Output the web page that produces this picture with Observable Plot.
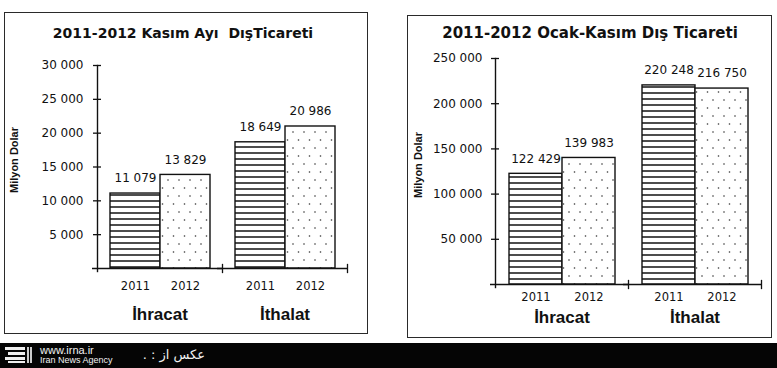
<!DOCTYPE html>
<html>
<head>
<meta charset="utf-8">
<script src="https://cdn.jsdelivr.net/npm/d3@7"></script>
<script src="https://cdn.jsdelivr.net/npm/@observablehq/plot@0.6"></script>
<style>
  html, body { margin: 0; padding: 0; background: #fff; }
  body { width: 777px; height: 368px; overflow: hidden; position: relative; font-family: "Liberation Sans", Arial, sans-serif; color: #111; }
  .panel { position: absolute; border: 1.5px solid #2a2a2a; box-sizing: border-box; }
  .title { position: absolute; font-family: "DejaVu Sans", sans-serif; font-weight: bold; color: #111; white-space: pre; transform: translate(-50%, -50%); }
  .ylab { position: absolute; font-family: "Liberation Sans", Arial, sans-serif; font-weight: bold; font-size: 11px; white-space: nowrap; transform: translate(-50%, -50%) rotate(-90deg); }
  .chart { position: absolute; top: 0; }
  .band { position: absolute; left: 0; top: 343px; width: 777px; height: 25px; background: #050505; }
  .irna1 { position: absolute; left: 40px; top: 345px; font-size: 11px; line-height: 10px; color: #f2f2f2; font-family: "Liberation Sans", Arial, sans-serif; }
  .irna2 { position: absolute; left: 40px; top: 356px; font-size: 9px; line-height: 9px; color: #f2f2f2; font-family: "Liberation Sans", Arial, sans-serif; }
  .photo { position: absolute; right: 572px; top: 348px; font-size: 13px; line-height: 14px; color: #f2f2f2; font-family: "DejaVu Sans", sans-serif; }
</style>
</head>
<body>
<svg width="0" height="0" style="position:absolute">
  <defs>
    <pattern id="hatch" patternUnits="userSpaceOnUse" width="8" height="6">
      <rect width="8" height="6" fill="#fff"></rect>
      <line x1="0" x2="8" y1="3" y2="3" stroke="#111" stroke-width="1.5"></line>
    </pattern>
    <pattern id="dots" patternUnits="userSpaceOnUse" width="11" height="16">
      <rect width="11" height="16" fill="#fff"></rect>
      <circle cx="3" cy="4" r="0.8" fill="#333"></circle>
      <circle cx="8.5" cy="12" r="0.8" fill="#333"></circle>
    </pattern>
  </defs>
</svg>

<div class="panel" style="left:4px;top:12px;width:364px;height:322px;"></div>
<div class="panel" style="left:407px;top:15px;width:365px;height:323px;"></div>

<div id="left" class="chart" style="left:0px;"></div>
<div id="right" class="chart" style="left:390px;"></div>

<div id="t1" class="title" style="left:183px;top:33px;font-size:14px;"></div>
<div id="t2" class="title" style="left:590px;top:33px;font-size:15px;"></div>
<div id="y1" class="ylab" style="left:14px;top:160px;"></div>
<div id="y2" class="ylab" style="left:418px;top:165px;"></div>

<div class="band"></div>
<svg style="position:absolute;left:5px;top:346px" width="28" height="19">
  <rect x="0" y="1" width="20" height="3" fill="#eee"></rect>
  <rect x="3" y="6" width="17" height="3" fill="#eee"></rect>
  <rect x="0" y="11" width="20" height="3" fill="#eee"></rect>
  <rect x="3" y="15" width="17" height="2" fill="#eee"></rect>
  <rect x="22" y="1" width="2" height="16" fill="#ccc"></rect>
  <rect x="25" y="1" width="2" height="16" fill="#ccc"></rect>
</svg>
<div class="irna1">www.irna.ir</div>
<div class="irna2">Iran News Agency</div>
<div class="photo" dir="rtl">عکس از : .</div>

<script>
// ---- data ----
const groups = ["İhracat", "İthalat"];
const years = ["2011", "2012"];
const novValues = [11079, 13829, 18649, 20986];          // İhracat 2011, 2012, İthalat 2011, 2012
const janNovValues = [122429, 139983, 220248, 216750];    // İhracat 2011, 2012, İthalat 2011, 2012
const novTicks = [5000, 10000, 15000, 20000, 25000, 30000];
const janNovTicks = [50000, 100000, 150000, 200000, 250000];
const titleNov = "2011-2012 Kasım Ayı  DışTicareti";
const titleJanNov = "2011-2012 Ocak-Kasım Dış Ticareti";
const yLabel = "Milyon Dolar";

const fmt = v => d3.format(",")(v).replace(/,/g, " ");

function rowsOf(values) {
  return groups.flatMap((g, gi) => years.map((y, yi) => ({group: g, year: y, value: values[gi * 2 + yi]})));
}

function makeChart(values, ticks, cfg) {
  const rows = rowsOf(values);
  const innerH = cfg.height - cfg.marginTop - cfg.marginBottom;
  return Plot.plot({
    width: cfg.width,
    height: cfg.height,
    marginLeft: cfg.marginLeft,
    marginRight: cfg.marginRight,
    marginTop: cfg.marginTop,
    marginBottom: cfg.marginBottom,
    style: {background: "none", overflow: "visible", fontFamily: "DejaVu Sans, sans-serif", color: "#111"},
    fx: {domain: groups, paddingInner: 0, paddingOuter: 0},
    x: {domain: years, paddingInner: 0, paddingOuter: 0.25},
    y: {domain: [0, ticks[ticks.length - 1]]},
    marks: [
      Plot.barY(rows, {filter: d => d.year === years[0], fx: "group", x: "year", y: "value", fill: "url(#hatch)", stroke: "#111", strokeWidth: 1.4}),
      Plot.barY(rows, {filter: d => d.year === years[1], fx: "group", x: "year", y: "value", fill: "url(#dots)", stroke: "#111", strokeWidth: 1.4}),
      Plot.text(rows, {fx: "group", x: "year", y: "value", text: d => fmt(d.value), dy: cfg.labelDy, fontSize: 12, fill: "#111"}),
      Plot.axisY(ticks, {tickSize: 8, dx: 4, tickPadding: cfg.yPad, tickFormat: fmt, fontSize: 12, label: null, strokeWidth: 1.3}),
      Plot.axisX({tickSize: 0, tickPadding: cfg.xPad, fontSize: 11.5, label: null}),
      Plot.axisFx({anchor: "bottom", tickSize: 0, tickPadding: cfg.fxPad, fontSize: 17, fontWeight: "bold", fontFamily: "Liberation Sans, Arial, sans-serif", label: null}),
      Plot.frame({anchor: "left", facetAnchor: "left", insetBottom: -3, strokeWidth: 1.4}),
      Plot.ruleY([0], {insetLeft: -5, strokeWidth: 1.4}),
      Plot.frame({anchor: "right", insetTop: innerH - 4, insetBottom: -4, strokeWidth: 1.3})
    ]
  });
}

document.getElementById("left").append(makeChart(novValues, novTicks, {
  width: 380, height: 333, marginLeft: 97, marginRight: 33, marginTop: 65, marginBottom: 65,
  yPad: 10, xPad: 13, fxPad: 39, labelDy: -15
}));
document.getElementById("right").append(makeChart(janNovValues, janNovTicks, {
  width: 387, height: 340, marginLeft: 105, marginRight: 16, marginTop: 58, marginBottom: 56,
  yPad: 9, xPad: 8, fxPad: 26, labelDy: -15
}));

document.getElementById("t1").textContent = titleNov;
document.getElementById("t2").textContent = titleJanNov;
document.getElementById("y1").textContent = yLabel;
document.getElementById("y2").textContent = yLabel;
</script>
</body>
</html>
